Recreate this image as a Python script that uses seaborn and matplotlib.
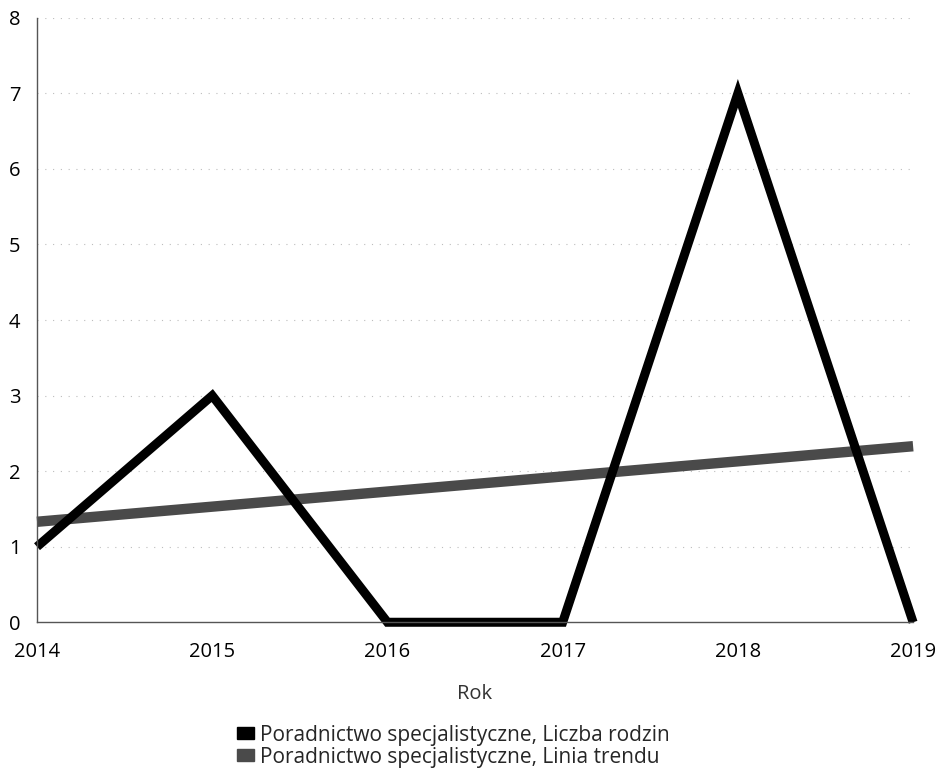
import pandas as pd
import matplotlib.pyplot as plt
import seaborn as sns
from matplotlib.patches import Patch

years = [2014, 2015, 2016, 2017, 2018, 2019]
families = [1, 3, 0, 0, 7, 0]
trend_years = [2014, 2019]
trend_values = [1.33, 2.33]

label_main = "Poradnictwo specjalistyczne, Liczba rodzin"
label_trend = "Poradnictwo specjalistyczne, Linia trendu"

df = pd.DataFrame({"Rok": years, "Liczba": families})
df_trend = pd.DataFrame({"Rok": trend_years, "Liczba": trend_values})

sns.set_theme(style="white")
plt.rcParams["font.family"] = ["Open Sans", "DejaVu Sans"]

fig = plt.figure(figsize=(9.37, 7.73), dpi=100)
ax = fig.add_axes([0.0395, 0.195, 0.935, 0.782])

ax.set_ylim(0, 8)
ax.set_xlim(2014, 2019)
for y in range(1, 9):
    ax.axhline(y, color="#bdbdbd", lw=0.8, ls=(0, (1, 6)), zorder=0)

sns.lineplot(data=df_trend, x="Rok", y="Liczba", ax=ax, color="#4a4a4a",
             lw=7.5, solid_capstyle="butt", clip_on=False)
sns.lineplot(data=df, x="Rok", y="Liczba", ax=ax, color="black",
             lw=6.5, solid_capstyle="butt", solid_joinstyle="miter", clip_on=False)

ax.set_xticks(years)
ax.set_yticks(range(0, 9))
ax.tick_params(axis="both", length=0, labelsize=14.5, colors="black")
ax.tick_params(axis="x", pad=14)
ax.tick_params(axis="y", pad=12)
ax.set_xlabel("Rok", fontsize=14.5, color="#333333", labelpad=16)
ax.set_ylabel("")

for side in ["top", "right"]:
    ax.spines[side].set_visible(False)
for side in ["left", "bottom"]:
    ax.spines[side].set_color("#555555")
    ax.spines[side].set_linewidth(1)

handles = [Patch(color="black"), Patch(color="#4a4a4a")]
fig.legend(handles, [label_main, label_trend], loc="lower center",
           bbox_to_anchor=(0.484, -0.012), frameon=False, fontsize=15,
           handlelength=0.8, handleheight=0.5, handletextpad=0.3,
           labelspacing=0.05, borderpad=0.2)

fig.savefig("out.png", dpi=100)
